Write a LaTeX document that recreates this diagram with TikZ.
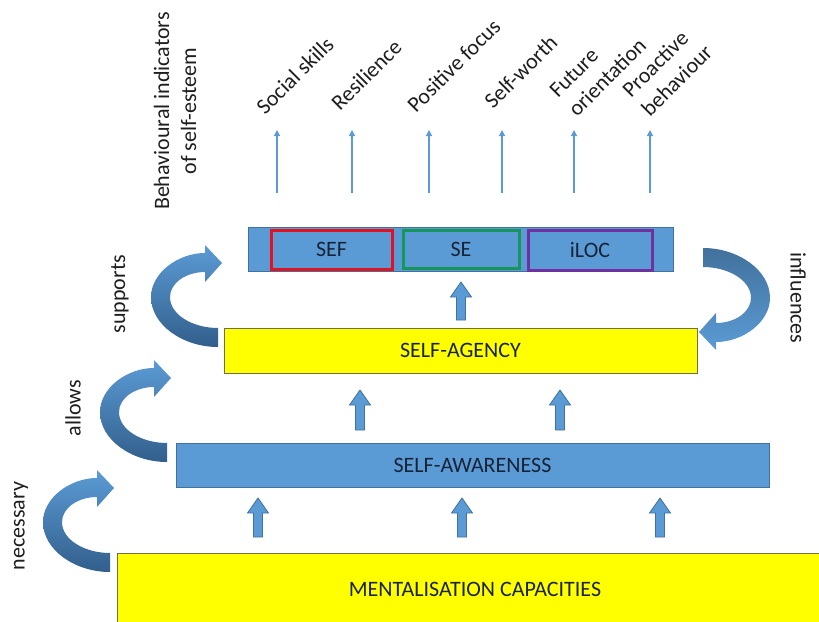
\documentclass[tikz,border=0pt]{standalone}
\usepackage{fontspec}
\setmainfont{Carlito}
\usetikzlibrary{arrows.meta}
\definecolor{ablue}{RGB}{91,155,213}
\definecolor{ablueD}{RGB}{65,113,156}
\definecolor{ablueDD}{RGB}{50,95,140}
\definecolor{yel}{RGB}{255,255,0}
\definecolor{yelE}{RGB}{110,110,80}
\definecolor{sefred}{RGB}{226,18,30}
\definecolor{segreen}{RGB}{22,150,90}
\definecolor{ilocpurple}{RGB}{112,48,160}
\definecolor{txt}{RGB}{30,30,30}
\definecolor{boxtxt}{RGB}{25,35,55}
\newcommand\curvarrow[3]{%
  \begin{scope}[#1]
    \shade[top color=#2, middle color=#2, bottom color=#3]
      (0,19) .. controls (-35,19) and (-67,-3) .. (-67,-31)
      .. controls (-67,-55) and (-40,-75) .. (-13,-75)
      -- (-13,-83) -- (4,-65) -- (-13,-46) -- (-13,-56)
      .. controls (-32,-56) and (-48,-45) .. (-48,-31)
      .. controls (-48,-13) and (-25,0) .. (0,0) -- cycle;
  \end{scope}}
\newcommand\blockup[3]{%
  \filldraw[fill=ablue, draw=ablueD, line width=0.8]
    (#1-4.5,#3) -- (#1-4.5,#2+15) -- (#1-10.5,#2+15) -- (#1,#2)
    -- (#1+10.5,#2+15) -- (#1+4.5,#2+15) -- (#1+4.5,#3) -- cycle;}
\begin{document}
\begin{tikzpicture}[x=1pt,y=-1pt,
  font=\fontsize{22}{27}\selectfont, text=txt,
  ybox/.style={draw=yelE, fill=yel, line width=0.8, text=boxtxt, inner sep=0},
  bbox/.style={draw=ablueD, fill=ablue, line width=0.8, text=boxtxt, inner sep=0},
  inbox/.style={fill=ablue, line width=3, text=boxtxt, inner sep=0},
  lab/.style={inner sep=0},
  diag/.style={rotate=45, anchor=base west, inner sep=0, align=left},
  thin/.style={draw=ablue, line width=1.2, -{Triangle[width=6,length=6]}}]
\useasboundingbox (0,0) rectangle (819,621);
\fill[white] (0,0) rectangle (819,621);
\begin{scope}
\clip (0,0) rectangle (819,621);
% boxes
\node[ybox, minimum width=716, minimum height=72] (ment) at (475,589) {MENTALISATION CAPACITIES};
\node[bbox, minimum width=593, minimum height=44] (aware) at (472.5,465) {SELF-AWARENESS};
\node[ybox, minimum width=473, minimum height=45] (agency) at (460.5,350.5) {SELF-AGENCY};
\node[bbox, minimum width=425, minimum height=44] (bar) at (460.5,249) {};
\node[inbox, draw=sefred, minimum width=121, minimum height=39] (sef) at (331.5,249.5) {SEF};
\node[inbox, draw=segreen, minimum width=116, minimum height=38] (se) at (461,249) {SE};
\node[inbox, draw=ilocpurple, minimum width=124, minimum height=40] (iloc) at (590,250) {iLOC};
\end{scope}
% block arrows
\blockup{258}{498}{537}
\blockup{462}{498}{537}
\blockup{660}{498}{537}
\blockup{360}{390}{430}
\blockup{560}{390}{430}
\blockup{461}{282}{320}
% curved arrows
\curvarrow{shift={(110,553)}}{ablue}{ablueDD}
\curvarrow{shift={(167,443)}}{ablue}{ablueDD}
\curvarrow{shift={(218,328)}}{ablue}{ablueDD}
\curvarrow{shift={(703,267)}, rotate=180}{ablueD}{ablue}
% side labels
\node[lab, rotate=90] (lnec) at (21,526) {necessary};
\node[lab, rotate=90] (lall) at (73,408) {allows};
\node[lab, rotate=90] (lsup) at (120,294) {supports};
\node[lab, rotate=-90] (linf) at (798,298) {influences};
\node[lab, rotate=90, align=center] (lbeh) at (175,111) {Behavioural indicators\\of self-esteem};
% indicator arrows
\foreach \n/\x in {a/277,b/352,c/429,d/502,e/574,f/650}{
  \coordinate (s\n) at (\x,193);
  \coordinate (t\n) at (\x,130);
  \draw[thin] (s\n) -- (t\n);
}
\node[diag] (i1) at (265,116) {Social skills};
\node[diag] (i2) at (340,112) {Resilience};
\node[diag] (i3) at (416,114) {Positive focus};
\node[diag] (i4) at (493,110) {Self-worth};
\node[diag] (i5) at (577,118) {Future\\orientation};
\node[diag] (i6) at (650,118) {Proactive\\behaviour};
\end{tikzpicture}
\end{document}
